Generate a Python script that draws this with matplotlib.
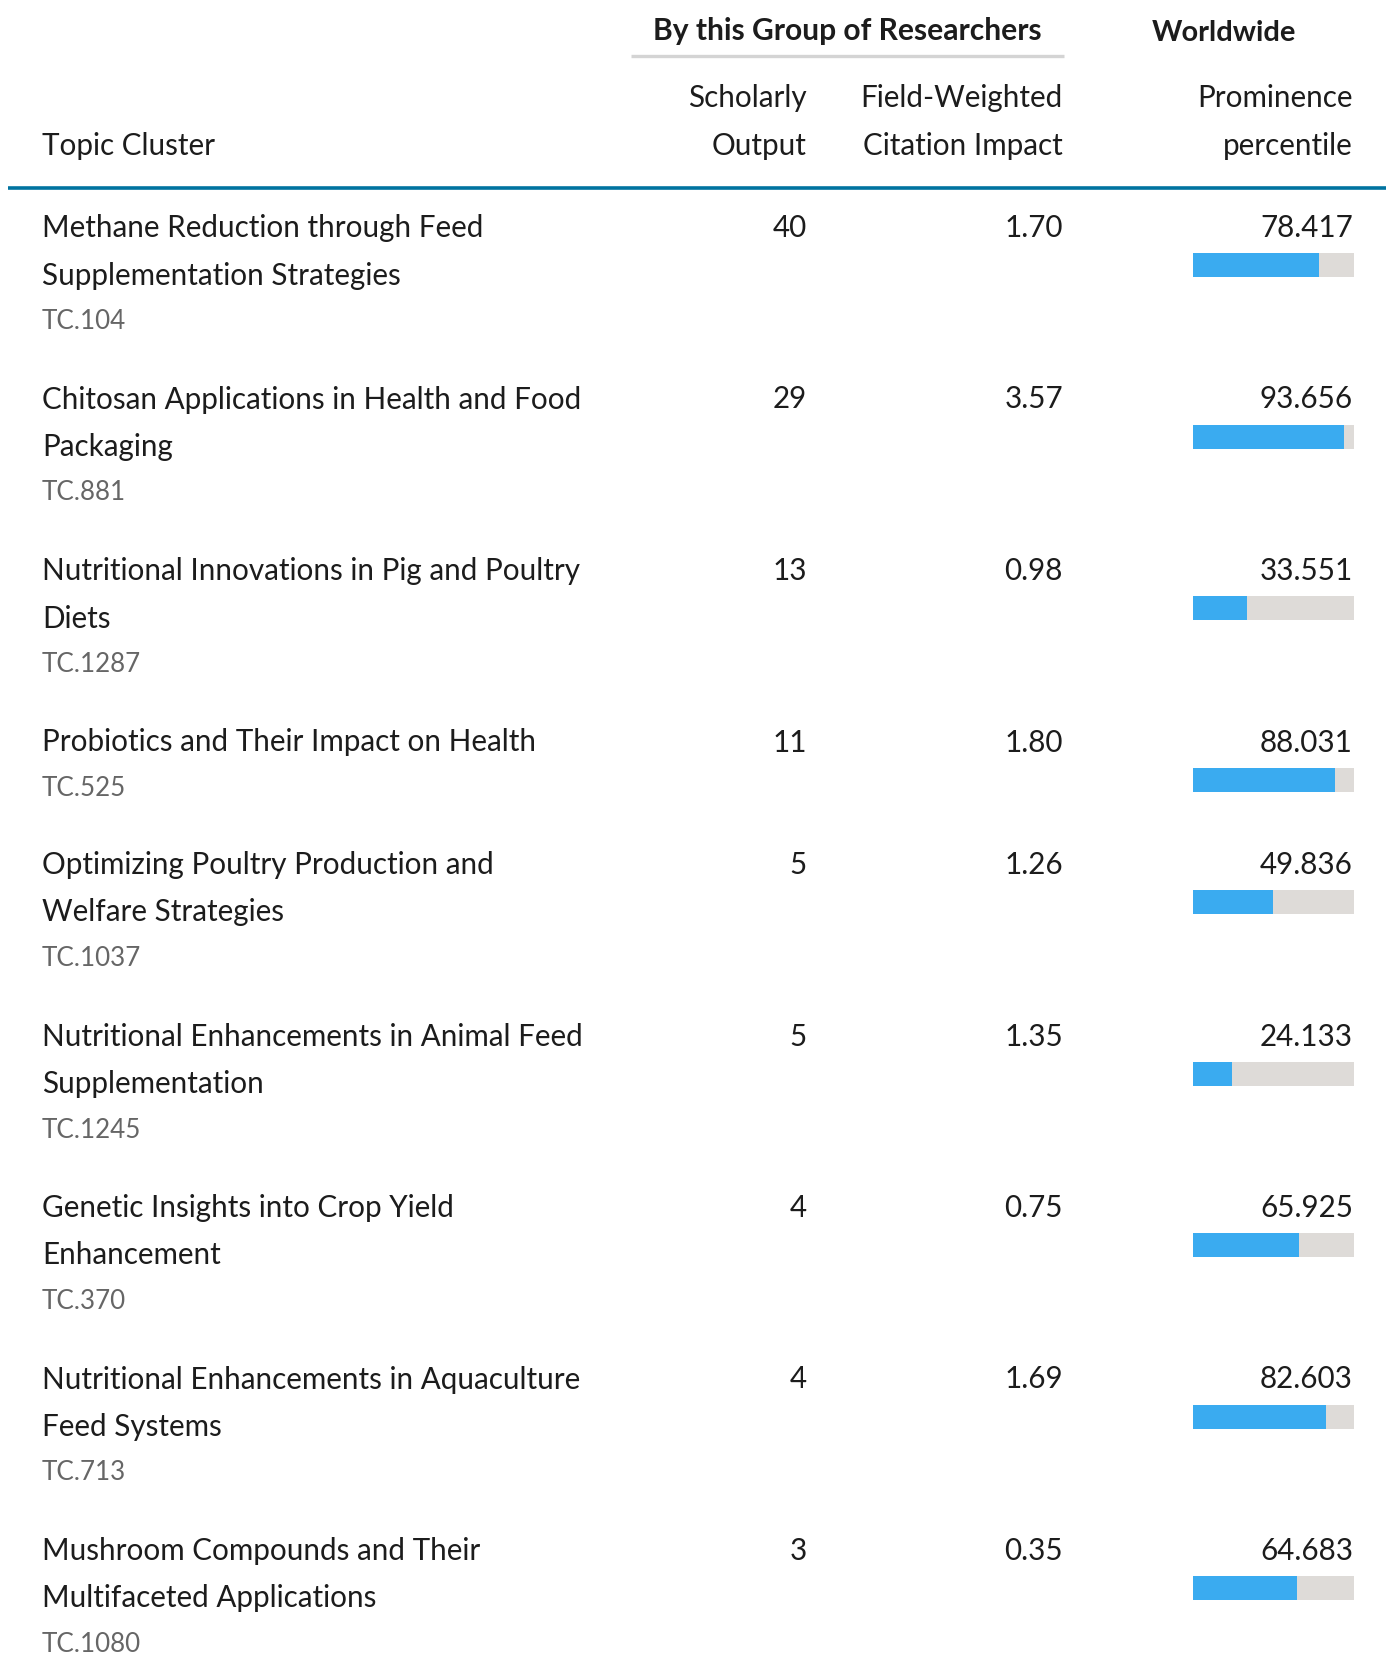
import matplotlib
matplotlib.use("Agg")
import matplotlib.pyplot as plt

# topic clusters (title lines as shown in the table)
titles = [
    ["Methane Reduction through Feed", "Supplementation Strategies"],
    ["Chitosan Applications in Health and Food", "Packaging"],
    ["Nutritional Innovations in Pig and Poultry", "Diets"],
    ["Probiotics and Their Impact on Health"],
    ["Optimizing Poultry Production and", "Welfare Strategies"],
    ["Nutritional Enhancements in Animal Feed", "Supplementation"],
    ["Genetic Insights into Crop Yield", "Enhancement"],
    ["Nutritional Enhancements in Aquaculture", "Feed Systems"],
    ["Mushroom Compounds and Their", "Multifaceted Applications"],
]
codes = ["TC.104", "TC.881", "TC.1287", "TC.525", "TC.1037",
         "TC.1245", "TC.370", "TC.713", "TC.1080"]
scholarly_output = [40, 29, 13, 11, 5, 5, 4, 4, 3]
fwci = [1.70, 3.57, 0.98, 1.80, 1.26, 1.35, 0.75, 1.69, 0.35]
prominence = [78.417, 93.656, 33.551, 88.031, 49.836, 24.133, 65.925, 82.603, 64.683]

W, H = 1388, 1655
FONT = "Lato"
TXT = "#1c1c1c"
GREY_TXT = "#666666"
BLUE = "#3aabf0"
TRACK = "#dedbd8"
TEAL = "#0073a0"

def pt(px):
    return px * 0.72

fig = plt.figure(figsize=(W / 100, H / 100), dpi=100)
ax = fig.add_axes([0, 0, 1, 1])
ax.set_xlim(0, W)
ax.set_ylim(H, 0)
ax.axis("off")

# header
ax.text(847, 31, "By this Group of Researchers", ha="center", va="center",
        fontsize=pt(30), fontweight="bold", family=FONT, color=TXT)
ax.text(1224, 33, "Worldwide", ha="center", va="center",
        fontsize=pt(29), fontweight="bold", family=FONT, color=TXT)
ax.plot([631, 1064], [56, 56], color="#d4d4d4", lw=2.4, solid_capstyle="butt")

ax.text(42, 146, "Topic Cluster", ha="left", va="center",
        fontsize=pt(29.6), family=FONT, color=TXT)
for xr, l1, l2 in [(807, "Scholarly", "Output"),
                   (1063, "Field-Weighted", "Citation Impact"),
                   (1353, "Prominence", "percentile")]:
    ax.text(xr, 98, l1, ha="right", va="center", fontsize=pt(29.6), family=FONT, color=TXT)
    ax.text(xr, 146, l2, ha="right", va="center", fontsize=pt(29.6), family=FONT, color=TXT)
ax.plot([8, 1386], [188, 188], color=TEAL, lw=2.6, solid_capstyle="butt")

# rows
line_h = 47.5
y = 228
bar_y = []
for t, c, so, fw, pr in zip(titles, codes, scholarly_output, fwci, prominence):
    for i, line in enumerate(t):
        ax.text(42, y + i * line_h, line, ha="left", va="center",
                fontsize=pt(29.6), family=FONT, color=TXT)
    ax.text(42, y + (len(t) - 1) * line_h + 46, c, ha="left", va="center",
            fontsize=pt(26), family=FONT, color=GREY_TXT)
    ax.text(807, y, f"{so}", ha="right", va="center", fontsize=pt(29.6), family=FONT, color=TXT)
    ax.text(1063, y, f"{fw:.2f}", ha="right", va="center", fontsize=pt(29.6), family=FONT, color=TXT)
    ax.text(1353, y, f"{pr:.3f}", ha="right", va="center", fontsize=pt(29.6), family=FONT, color=TXT)
    bar_y.append(y + 37)
    y += len(t) * 49 + 73.5

# percentile bars
bx = fig.add_axes([1193 / W, 0, (1354 - 1193) / W, 1])
bx.set_xlim(0, 100)
bx.set_ylim(H, 0)
bx.axis("off")
bx.barh(bar_y, [100] * len(bar_y), height=24, color=TRACK)
bx.barh(bar_y, prominence, height=24, color=BLUE)

fig.savefig("out.png", dpi=100)
